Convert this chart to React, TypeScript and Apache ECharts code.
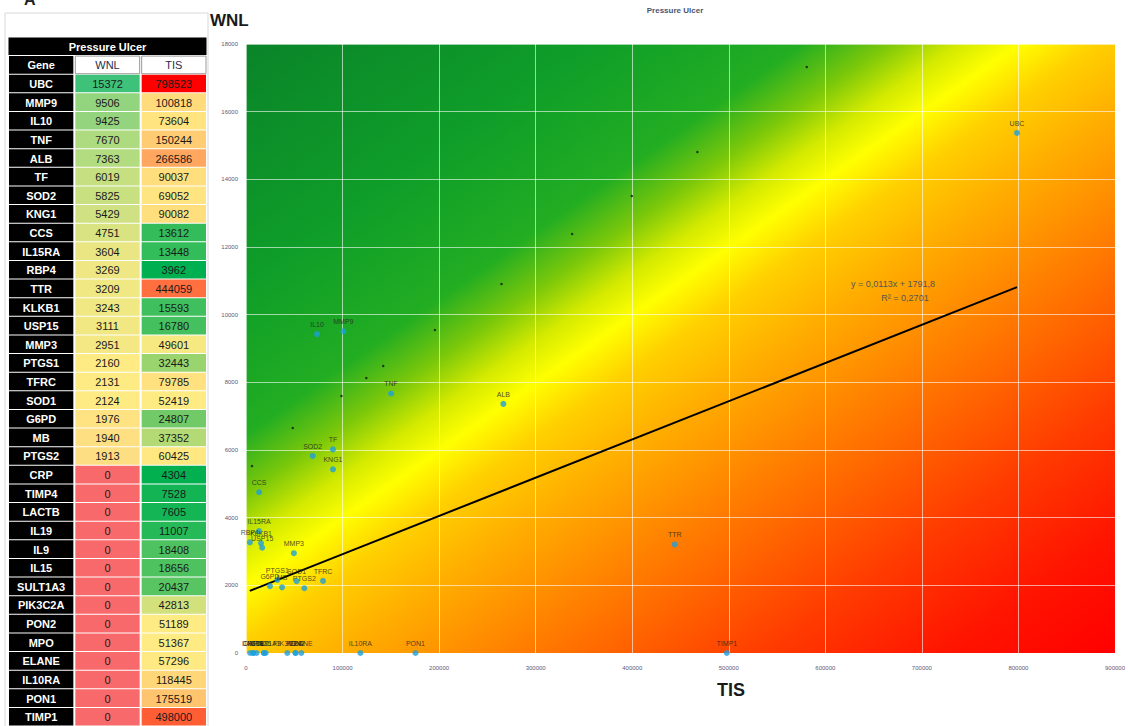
import React, { useEffect, useRef } from "react";
import * as echarts from "echarts";

// ---------- data ----------
const GENES = ["UBC","MMP9","IL10","TNF","ALB","TF","SOD2","KNG1","CCS","IL15RA","RBP4","TTR","KLKB1","USP15","MMP3","PTGS1","TFRC","SOD1","G6PD","MB","PTGS2","CRP","TIMP4","LACTB","IL19","IL9","IL15","SULT1A3","PIK3C2A","PON2","MPO","ELANE","IL10RA","PON1","TIMP1"];
const WNL = [15372,9506,9425,7670,7363,6019,5825,5429,4751,3604,3269,3209,3243,3111,2951,2160,2131,2124,1976,1940,1913,0,0,0,0,0,0,0,0,0,0,0,0,0,0];
const TIS = [798523,100818,73604,150244,266586,90037,69052,90082,13612,13448,3962,444059,15593,16780,49601,32443,79785,52419,24807,37352,60425,4304,7528,7605,11007,18408,18656,20437,42813,51189,51367,57296,118445,175519,498000];
const TABLE_COLS = ["Gene", "WNL", "TIS"];
const TABLE_TITLE = "Pressure Ulcer";
const CHART_TITLE = "Pressure Ulcer";
// linear trend line endpoints (y = 0,0113x + 1791,8)
const TREND_LINE = [[3962, 1836], [798523, 10815]];
const TREND_TEXT = ["y = 0,0113x + 1791,8", "R² = 0,2701"];
// tiny black marks along the diagonal of the background
const DIAG_DOTS = [[6178,5527],[48398,6650],[98856,7596],[124600,8128],[142105,8483],[195652,9547],[264645,10906],[337757,12384],[399542,13507],[467506,14808],[580778,17320]];
const X_MAX = 900000, X_STEP = 100000;
const Y_MAX = 18000, Y_STEP = 2000;

// ---------- helpers ----------
function hex(c: string) { return [parseInt(c.slice(1,3),16), parseInt(c.slice(3,5),16), parseInt(c.slice(5,7),16)]; }
function mix(a: string, b: string, t: number) {
  const A = hex(a), B = hex(b);
  const r = A.map((v, i) => Math.round(v + (B[i] - v) * t));
  return `rgb(${r[0]},${r[1]},${r[2]})`;
}
function median(arr: number[]) { const s = [...arr].sort((a, b) => a - b); return s[Math.floor(s.length / 2)]; }
function scale3(v: number, arr: number[], cMin: string, cMid: string, cMax: string) {
  const mn = Math.min(...arr), mx = Math.max(...arr), md = median(arr);
  if (v <= md) return mix(cMin, cMid, md === mn ? 1 : (v - mn) / (md - mn));
  return mix(cMid, cMax, (v - md) / (mx - md));
}

const FONT = '"Liberation Sans Narrow", "Liberation Sans", Arial, sans-serif';

type Cell = { c: number; r: number; fill: string; text: string; color: string; bold: boolean; span?: boolean; stroke?: string };

function buildCells(): Cell[] {
  const cells: Cell[] = [];
  cells.push({ c: 0, r: 0, fill: "#000", text: TABLE_TITLE, color: "#fff", bold: true, span: true });
  cells.push({ c: 0, r: 1, fill: "#000", text: TABLE_COLS[0], color: "#fff", bold: true });
  cells.push({ c: 1, r: 1, fill: "#fff", text: TABLE_COLS[1], color: "#1f2d50", bold: false, stroke: "#9a9a9a" });
  cells.push({ c: 2, r: 1, fill: "#fff", text: TABLE_COLS[2], color: "#1f2d50", bold: false, stroke: "#9a9a9a" });
  GENES.forEach((g, i) => {
    const r = i + 2;
    cells.push({ c: 0, r, fill: "#000", text: g, color: "#fff", bold: true });
    cells.push({ c: 1, r, fill: scale3(WNL[i], WNL, "#f8696b", "#ffeb84", "#3ec27a"), text: String(WNL[i]), color: "#1a1a1a", bold: false });
    cells.push({ c: 2, r, fill: scale3(TIS[i], TIS, "#00b050", "#ffeb84", "#ff0000"), text: String(TIS[i]), color: "#1a1a1a", bold: false });
  });
  return cells;
}

export default function App() {
  const ref = useRef<HTMLDivElement>(null);
  useEffect(() => {
    if (!ref.current) return;
    const chart = echarts.init(ref.current, null, { renderer: "svg" });
    const cells = buildCells();
    const rowIds = ["title", "header", ...GENES];

    const bg = new echarts.graphic.LinearGradient(0, 0, 1, 1, [
      { offset: 0, color: "#0a8429" },
      { offset: 0.2, color: "#0f9e29" },
      { offset: 0.32, color: "#22ad22" },
      { offset: 0.37, color: "#7cc80a" },
      { offset: 0.41, color: "#d4ea00" },
      { offset: 0.445, color: "#ffff00" },
      { offset: 0.49, color: "#ffd000" },
      { offset: 0.55, color: "#ffb000" },
      { offset: 0.65, color: "#ff8000" },
      { offset: 0.8, color: "#ff3a00" },
      { offset: 0.9, color: "#ff1500" },
      { offset: 1, color: "#ff0000" },
    ]);

    const axisLabel = { fontSize: 6, color: "#5a5a7a", fontFamily: "Liberation Sans", formatter: (v: number) => String(v) };
    const splitLine = { show: true, lineStyle: { color: "rgba(255,255,255,0.6)", width: 1 } };

    chart.setOption({
      animation: false,
      backgroundColor: "#fff",
      grid: [
        { left: 246, top: 44, width: 874, height: 609, show: true, backgroundColor: bg, borderWidth: 0 },
        { left: 8, top: 37, width: 199, height: 691, show: false },
      ],
      xAxis: [
        { gridIndex: 0, type: "value", min: 0, max: X_MAX, interval: X_STEP, axisLine: { show: false }, axisTick: { show: false }, axisLabel: { ...axisLabel, margin: 12 }, splitLine },
        { gridIndex: 1, type: "category", data: TABLE_COLS, show: false },
      ],
      yAxis: [
        { gridIndex: 0, type: "value", min: 0, max: Y_MAX, interval: Y_STEP, axisLine: { show: false }, axisTick: { show: false }, axisLabel: { ...axisLabel, margin: 8 }, splitLine },
        { gridIndex: 1, type: "category", data: rowIds, inverse: true, show: false },
      ],
      graphic: [
        { type: "rect", shape: { x: 5, y: 13, width: 203, height: 720 }, style: { fill: "none", stroke: "#d8d8d8", lineWidth: 1 }, z: -1 },
        { type: "text", x: 24, y: -9, style: { text: "A", font: "bold 16px Liberation Sans", fill: "#222" } },
        { type: "text", x: 675, y: 10, style: { text: CHART_TITLE, align: "center", verticalAlign: "middle", font: "bold 8px Liberation Sans", fill: "#4a5670" } },
        { type: "text", x: 210, y: 20, style: { text: "WNL", align: "left", verticalAlign: "middle", font: "bold 17px Liberation Sans", fill: "#1a1a1a" } },
        { type: "text", x: 731, y: 690, style: { text: "TIS", align: "center", verticalAlign: "middle", font: "bold 18px Liberation Sans", fill: "#1a1a1a" } },
        { type: "text", x: 893, y: 284, z: 10, style: { text: TREND_TEXT[0], align: "center", verticalAlign: "middle", font: "9px Liberation Sans", fill: "#555" } },
        { type: "text", x: 905, y: 298, z: 10, style: { text: TREND_TEXT[1], align: "center", verticalAlign: "middle", font: "9px Liberation Sans", fill: "#555" } },
      ],
      series: [
        {
          type: "custom",
          xAxisIndex: 1,
          yAxisIndex: 1,
          data: cells.map((c) => [c.c, c.r]),
          renderItem: (params: any, api: any) => {
            const cell = cells[params.dataIndex];
            const p = api.coord([api.value(0), api.value(1)]);
            const s = api.size([1, 1]);
            let w = s[0];
            const h = s[1];
            let x = p[0] - w / 2;
            const y = p[1] - h / 2;
            if (cell.span) { x = api.coord([0, api.value(1)])[0] - w / 2; w = w * 3; }
            const gx = cell.span ? 0.5 : 1, gy = 0.5;
            return {
              type: "group",
              children: [
                { type: "rect", shape: { x: x + gx, y: y + gy, width: w - 2 * gx, height: h - 2 * gy }, style: { fill: cell.fill, stroke: cell.stroke || null, lineWidth: cell.stroke ? 1 : 0 } },
                { type: "text", style: { text: cell.text, x: x + w / 2, y: y + h / 2 + 0.5, align: "center", verticalAlign: "middle", fill: cell.color, font: `${cell.bold ? "bold " : ""}11px ${FONT}` } },
              ],
            };
          },
        },
        {
          type: "scatter",
          xAxisIndex: 0, yAxisIndex: 0,
          data: DIAG_DOTS,
          symbolSize: 2.5,
          itemStyle: { color: "#111" },
          silent: true,
        },
        {
          type: "line",
          xAxisIndex: 0, yAxisIndex: 0,
          data: TREND_LINE,
          symbol: "none",
          lineStyle: { color: "#000", width: 2 },
          z: 3,
        },
        {
          type: "scatter",
          xAxisIndex: 0, yAxisIndex: 0,
          data: GENES.map((g, i) => ({ name: g, value: [TIS[i], WNL[i]] })),
          symbolSize: 6,
          itemStyle: { color: "#1e9fdc" },
          z: 4,
          label: { show: true, position: "top", distance: 3, formatter: "{b}", fontSize: 7, color: "#222", fontFamily: "Liberation Sans" },
        },
      ],
    });
    return () => chart.dispose();
  }, []);
  return <div ref={ref} style={{ position: "absolute", left: 0, top: 0, width: 1128, height: 726 }} />;
}
